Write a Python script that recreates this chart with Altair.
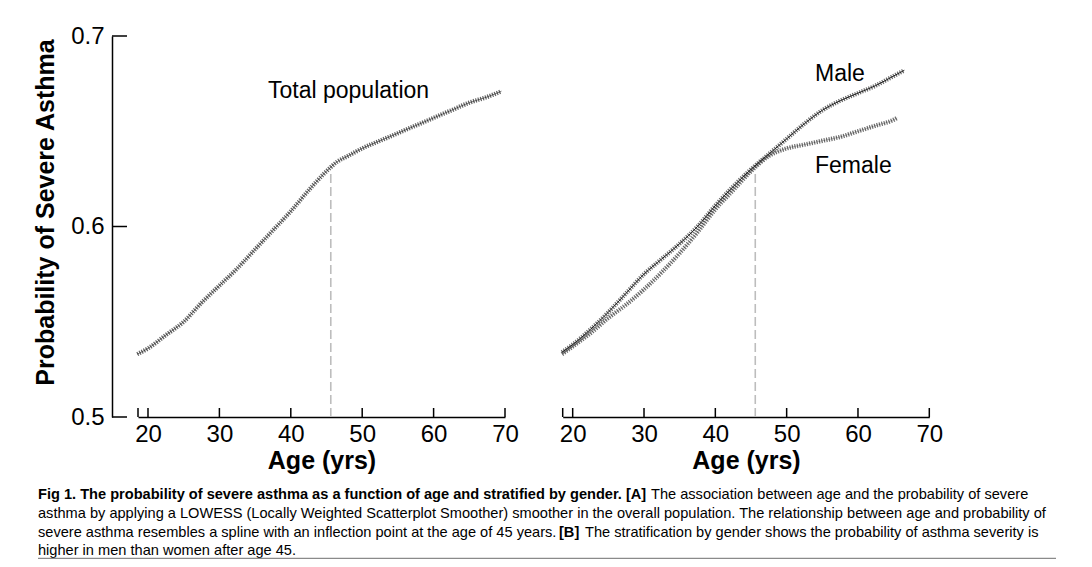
import altair as alt
import pandas as pd

# ---- data ----
total_age = [18.5, 20, 22.5, 25, 27.5, 30, 32.5, 35, 37.5, 40, 42.5, 45, 46.5, 48, 50,
             52.5, 55, 57.5, 60, 62.5, 65, 67.5, 69.5]
total_prob = [0.533, 0.536, 0.543, 0.550, 0.560, 0.569, 0.578, 0.588, 0.598, 0.608, 0.619,
              0.629, 0.634, 0.637, 0.641, 0.645, 0.649, 0.653, 0.657, 0.661, 0.665, 0.668, 0.671]

male_age = [18.5, 20, 22.5, 25, 27.5, 30, 32.5, 35, 37.5, 40, 42.5, 45, 47.5, 50, 52.5,
            55, 57.5, 60, 62.5, 65, 66.5]
male_prob = [0.534, 0.538, 0.546, 0.555, 0.565, 0.575, 0.583, 0.591, 0.600, 0.611, 0.621,
             0.630, 0.638, 0.646, 0.654, 0.661, 0.666, 0.670, 0.674, 0.679, 0.682]

female_age = [18.5, 20, 22.5, 25, 27.5, 30, 32.5, 35, 37.5, 40, 42.5, 45, 47.5, 50, 52.5,
              55, 57.5, 60, 62.5, 65, 65.5]
female_prob = [0.533, 0.537, 0.544, 0.552, 0.559, 0.567, 0.576, 0.586, 0.597, 0.609, 0.619,
               0.629, 0.637, 0.641, 0.643, 0.645, 0.647, 0.650, 0.653, 0.656, 0.657]

y_ticks = [0.5, 0.6, 0.7]
x_labels = [20, 30, 40, 50, 60, 70]
x_tick_marks = [18.6, 20, 30, 40, 50, 60, 70]
x_domain = [18.6, 70]
inflection_age = 45.6
inflection_prob = [0.5, 0.628]

caption_bold_1 = "Fig 1. The probability of severe asthma as a function of age and stratified by gender. [A]"
caption_reg_1 = "The association between age and the probability of severe"
caption_line_2 = ("asthma by applying a LOWESS (Locally Weighted Scatterplot Smoother) smoother in the "
                  "overall population. The relationship between age and probability of")
caption_reg_3a = "severe asthma resembles a spline with an inflection point at the age of 45 years."
caption_bold_3 = "[B]"
caption_reg_3b = "The stratification by gender shows the probability of asthma severity is"
caption_line_4 = "higher in men than women after age 45."

FONT = "Liberation Sans"
W, H = 972, 381
CAP = 14.6
TICK_FS = 24
TITLE_FS = 25
NOTE_FS = 23

LEFT_RANGE = [26, 393]
RIGHT_RANGE = [450.7, 817.3]


def ys():
    return alt.Scale(domain=[0.5, 0.7], zero=False, nice=False)


def xs(rng):
    return alt.Scale(domain=x_domain, range=rng, zero=False, nice=False)


def x_axis():
    return alt.Axis(values=x_labels, ticks=False, domain=True, domainColor="black",
                    domainWidth=1.5, labelFontSize=TICK_FS, labelFont=FONT,
                    labelColor="black", labelPadding=5, labelFlush=False, grid=False,
                    title="Age (yrs)", titleFontSize=TITLE_FS, titleFont=FONT,
                    titleFontWeight="bold", titleColor="black", titlePadding=2,
                    orient="bottom")


def curve_layers(df, rng, solid_width, dot_opacity):
    base = alt.Chart(df)
    dots = base.mark_line(color="#3a3a3a", strokeWidth=4.4, strokeDash=[1.2, 1.3],
                          opacity=dot_opacity, interpolate="monotone").encode(
        x=alt.X("age:Q", scale=xs(rng), axis=None),
        y=alt.Y("p:Q", scale=ys(), axis=None))
    line = base.mark_line(color="#222", strokeWidth=solid_width,
                          interpolate="monotone").encode(
        x=alt.X("age:Q", scale=xs(rng), axis=None),
        y=alt.Y("p:Q", scale=ys(), axis=None))
    return [dots, line]


def panel_common(rng):
    tick_df = pd.DataFrame({"age": x_tick_marks})
    xt = alt.Chart(tick_df).mark_rule(color="black", strokeWidth=1.5).encode(
        x=alt.X("age:Q", scale=xs(rng), axis=x_axis()),
        y=alt.value(H), y2=alt.value(H - 9))
    dash_df = pd.DataFrame({"age": [inflection_age], "p0": [inflection_prob[0]],
                            "p1": [inflection_prob[1]]})
    dash = alt.Chart(dash_df).mark_rule(color="#bdbdbd", strokeWidth=1.6,
                                        strokeDash=[9, 4]).encode(
        x=alt.X("age:Q", scale=xs(rng), axis=None),
        y=alt.Y("p0:Q", scale=ys(), axis=None), y2="p1:Q")
    return [xt, dash]


ytick_df = pd.DataFrame({"v": y_ticks})
y_axis_layer = alt.Chart(ytick_df).mark_rule(color="black", strokeWidth=1.5).encode(
    y=alt.Y("v:Q", scale=ys(),
            axis=alt.Axis(values=y_ticks, format=".1f", ticks=False, domain=True,
                          domainColor="black", domainWidth=1.5, labelFontSize=TICK_FS,
                          labelFont=FONT, labelColor="black", labelPadding=8, grid=False,
                          labelFlush=False,
                          title="Probability of Severe Asthma", titleFontSize=TITLE_FS,
                          titleFont=FONT, titleFontWeight="bold", titleColor="black",
                          titlePadding=12, titleY=176, orient="left")),
    x=alt.value(0), x2=alt.value(15))

total_df = pd.DataFrame({"age": total_age, "p": total_prob})
male_df = pd.DataFrame({"age": male_age, "p": male_prob})
female_df = pd.DataFrame({"age": female_age, "p": female_prob})


def label(text, x, y, size=NOTE_FS, weight="normal", align="left"):
    return alt.Chart(pd.DataFrame({"t": [text]})).mark_text(
        font=FONT, fontSize=size, fontWeight=weight, align=align, baseline="middle",
        color="black").encode(text="t:N", x=alt.value(x), y=alt.value(y))


layers = [y_axis_layer]
layers += panel_common(LEFT_RANGE)
layers += curve_layers(total_df, LEFT_RANGE, 0.6, 0.8)
layers += panel_common(RIGHT_RANGE)
layers += curve_layers(female_df, RIGHT_RANGE, 0.3, 0.75)
layers += curve_layers(male_df, RIGHT_RANGE, 1.0, 0.75)
layers += [
    label("Total population", 156, 55),
    label("Male", 703, 38),
    label("Female", 703, 130),
    label(caption_bold_1, -74, 459, CAP, "bold"),
    label(caption_reg_1, 539, 459, CAP),
    label(caption_line_2, -74, 478, CAP),
    label(caption_reg_3a, -74, 497, CAP),
    label(caption_bold_3, 447, 497, CAP, "bold"),
    label(caption_reg_3b, 473, 497, CAP),
    label(caption_line_4, -74, 515, CAP),
]

rule_df = pd.DataFrame({"k": [1]})
layers.append(alt.Chart(rule_df).mark_rule(color="#8a8a8a", strokeWidth=1.6).encode(
    x=alt.value(-74), x2=alt.value(944), y=alt.value(522.6), y2=alt.value(522.6)))

chart = alt.layer(*layers).resolve_scale(x="independent", y="independent").resolve_axis(
    x="independent", y="independent").properties(
    width=W, height=H,
    padding={"left": 104, "top": 28, "right": 0, "bottom": 142},
    autosize=alt.AutoSizeParams(type="none"),
    background="white",
).configure_view(stroke=None)

chart.save("out.html", embed_options={"renderer": "svg", "actions": False})
